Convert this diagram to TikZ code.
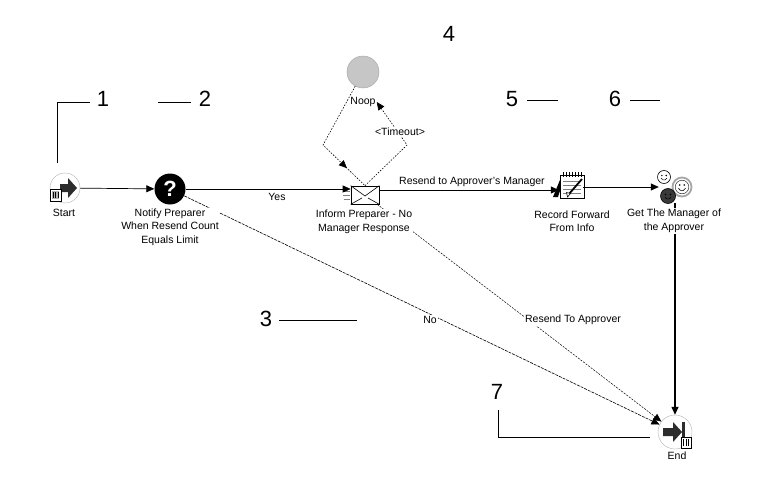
\documentclass[tikz,border=0pt]{standalone}
\usepackage{fontspec}
\setmainfont{Liberation Sans}
\usetikzlibrary{arrows.meta,decorations.markings}
\begin{document}
\begin{tikzpicture}[x=1pt,y=-1pt,
  lbl/.style={font=\fontsize{10.5}{13.5}\selectfont, align=center, inner sep=1pt, fill=white},
  elbl/.style={font=\fontsize{10.5}{13.5}\selectfont, inner sep=1pt},
  num/.style={font=\fontsize{22}{24}\selectfont, inner sep=0pt},
  call/.style={line width=0.8pt},
  tip/.style={-{Triangle[length=8pt,width=7pt]}},
  flow/.style={line width=0.7pt, tip},
  dflow/.style={line width=0.6pt, dash pattern=on 3pt off 1pt, tip},
  loopl/.style={line width=0.6pt, dash pattern=on 1.5pt off 1.5pt},
  iconc/.style={circle, inner sep=0pt},
]
\useasboundingbox (0,0) rectangle (768,500);

% ---------- icon nodes ----------
\node[iconc, minimum size=30pt, draw=gray!60, fill=white] (start) at (65,188) {};
\node[iconc, minimum size=31pt, fill=black, text=white,
      font=\bfseries\fontsize{22}{22}\selectfont] (notify) at (170,189) {?};
\node[iconc, minimum size=32pt, fill=gray!45, draw=gray!75] (noop) at (363,72) {};
\node[rectangle, minimum width=28pt, minimum height=18pt, inner sep=0pt, draw, fill=white, line width=0.7pt] (inform) at (365,195) {};
\node[rectangle, minimum width=24pt, minimum height=26pt, inner sep=0pt] (record) at (571,185) {};
\node[iconc, minimum size=32pt] (getmgr) at (675,187) {};
\node[iconc, minimum size=34pt, draw=gray!60, fill=white] (endn) at (675,432) {};

% start icon details
\begin{scope}[shift={(start.center)}]
  \fill[gray!35!black] (-5,-4) -- (3,-4) -- (3,-10) -- (12,0) -- (3,10) -- (3,4) -- (-5,4) -- cycle;
  \draw[line width=1pt, fill=white] (-15,1) rectangle (-4,13);
  \fill[gray!60] (-13,3) rectangle (-6,11);
  \draw[line width=0.6pt] (-12,4) -- (-12,10) (-9.5,4) -- (-9.5,10) (-7,4) -- (-7,10);
\end{scope}

% envelope details
\draw[line width=0.6pt] (inform.north west) -- ([yshift=-1pt]inform.center) -- (inform.north east);
\draw[line width=0.6pt] (inform.south west) -- ([xshift=-3pt,yshift=-3pt]inform.center);
\draw[line width=0.6pt] (inform.south east) -- ([xshift=3pt,yshift=-3pt]inform.center);
\draw[gray, line width=0.6pt]
  ([xshift=-7pt,yshift=-4pt]inform.west) -- ([xshift=-1pt,yshift=-4pt]inform.west)
  ([xshift=-8pt]inform.west) -- ([xshift=-1pt]inform.west)
  ([xshift=-7pt,yshift=4pt]inform.west) -- ([xshift=-1pt,yshift=4pt]inform.west);

% notepad details
\begin{scope}[shift={(record.center)}]
  \fill[black] (-18,12) -- (-9,-10) -- (-6,-10) -- (-13,12) -- cycle;
  \draw[fill=white, line width=0.6pt] (-11,-10) rectangle (13,13);
  \foreach \yy in {-4,0,4,8} \draw[gray, line width=0.5pt] (-8,\yy) -- (10,\yy);
  \foreach \xx in {-8,-5,...,11} \draw[line width=0.6pt] (\xx,-13) -- (\xx,-8);
  \draw[line width=1.8pt] (-2,9) -- (11,-6);
  \draw[line width=0.6pt, fill=white] (-3.5,12) -- (-4.5,7.5) -- (-0.5,8.5) -- cycle;
\end{scope}

% manager icon details
\begin{scope}[shift={(getmgr.center)}]
  \draw[fill=white, line width=0.6pt] (-11,-10) circle (6.5);
  \fill (-13.2,-11.5) circle (0.8) (-8.8,-11.5) circle (0.8);
  \draw[line width=0.5pt] (-14,-9) arc[start angle=160, end angle=20, radius=3.2];
  \draw[gray!70, line width=1.8pt, fill=white] (7,0) circle (9.5);
  \draw[gray!40!black, line width=0.5pt] (7,0) circle (6.8);
  \fill (4.8,-2) circle (0.9) (9.2,-2) circle (0.9);
  \draw[line width=0.6pt] (3.4,1.2) arc[start angle=160, end angle=20, radius=3.8];
  \draw[fill=gray!45!black, draw=black, line width=0.6pt] (-7,9) circle (7.5);
  \fill[black] (-9.5,7.5) circle (0.9) (-4.5,7.5) circle (0.9);
  \draw[black, line width=0.6pt] (-10,10) arc[start angle=160, end angle=20, radius=3.2];
\end{scope}

% end icon details
\begin{scope}[shift={(endn.center)}]
  \fill[gray!35!black] (-12,-4) -- (-2,-4) -- (-2,-10) -- (7,0) -- (-2,10) -- (-2,4) -- (-12,4) -- cycle;
  \fill[gray!35!black] (7,-10) rectangle (10,10);
  \draw[line width=1pt, fill=white] (6,5) rectangle (16,16);
  \draw[line width=0.6pt] (8.5,7) -- (8.5,14) (11,7) -- (11,14) (13.5,7) -- (13.5,14);
\end{scope}

% ---------- connectors ----------
\draw[flow] (start) -- (notify);
\draw[flow] (notify.east) -- (notify.east -| inform.west);
\draw[flow] ([yshift=5pt]inform.east) -- ([yshift=5pt]inform.east -| record.west);
\draw[flow] (record.east |- getmgr.west) -- (getmgr.west);
\draw[line width=1.3pt, tip] (getmgr) -- (endn);
\draw[dflow] (notify) -- (endn);
\draw[dflow, dash pattern=on 2pt off 1.2pt, line width=0.5pt] (inform) -- (endn);

\coordinate (w1) at (323,145);
\coordinate (w2) at (407,145);

% labels (white fill covers connectors)
\node[lbl] (startlbl) at (64,213) {Start};
\node[lbl] (notifylbl) at (170,227) {Notify Preparer\\When Resend Count\\Equals Limit};
\node[lbl] (informlbl) at (364,222) {Inform Preparer - No\\Manager Response};
\node[lbl] (recordlbl) at (572,221) {Record Forward\\From Info};
\node[lbl] (getlbl) at (674,221) {Get The Manager of\\the Approver};
\node[lbl] (endlbl) at (677,456) {End};
\node[lbl, fill=none] (nooplbl) at (363,102) {Noop};

\draw[loopl, postaction={decorate},
      decoration={markings, mark=at position 0.8 with {\arrow{Triangle[length=8pt,width=7pt]}}}]
  (noop) -- (w1) -- (inform.north);
\draw[loopl, tip] (inform.north) -- (w2) -- (nooplbl.east);

\node[elbl, fill=white] (tolbl) at (400,132) {<Timeout>};
\node[elbl] (yeslbl) at (277,197) {Yes};
\node[elbl] (mgrlbl) at (472,182) {Resend to Approver's Manager};
\node[elbl, fill=white] (nolbl) at (430,320) {No};
\node[elbl, fill=white] (ralbl) at (573,320) {Resend To Approver};

% ---------- callouts ----------
\node[num] (n1) at (103,99) {1};
\node[num] (n2) at (205,99) {2};
\node[num] (n3) at (266,319) {3};
\node[num] (n4) at (449,34) {4};
\node[num] (n5) at (512,99) {5};
\node[num] (n6) at (615,99) {6};
\node[num] (n7) at (497,392) {7};
\coordinate (c1a) at (90,102); \coordinate (c1b) at (57,102); \coordinate (c1c) at (57,163);
\coordinate (c2a) at (158,102); \coordinate (c2b) at (191,102);
\coordinate (c3a) at (279,320); \coordinate (c3b) at (357,320);
\coordinate (c5a) at (527,100); \coordinate (c5b) at (558,100);
\coordinate (c6a) at (630,100); \coordinate (c6b) at (660,100);
\coordinate (c7a) at (498,410); \coordinate (c7b) at (498,437); \coordinate (c7c) at (650,437);
\draw[call] (c1a) -- (c1b) -- (c1c);
\draw[call] (c2a) -- (c2b);
\draw[call] (c3a) -- (c3b);
\draw[call] (c5a) -- (c5b);
\draw[call] (c6a) -- (c6b);
\draw[call] (c7a) -- (c7b) -- (c7c);
\end{tikzpicture}
\end{document}
